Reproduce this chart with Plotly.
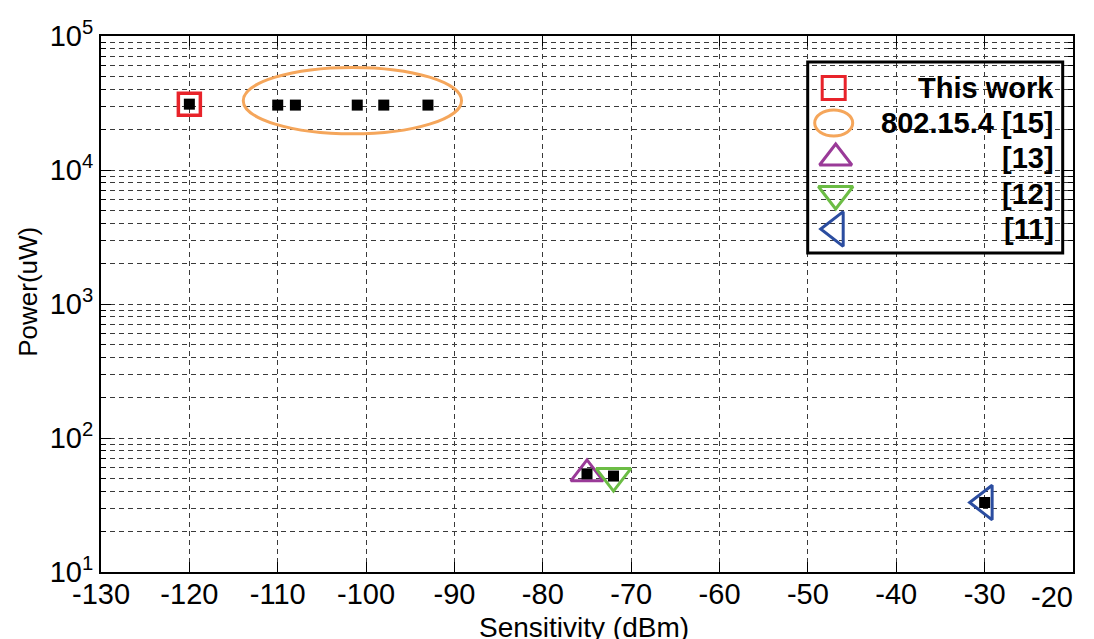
import plotly.graph_objects as go

# ---------------- data ----------------
this_work_x = [-120]
this_work_y = [31000]
ieee_x = [-110, -108, -101, -98, -93]
ieee_y = [30500, 30500, 30500, 30500, 30500]
ref13_x = [-75]
ref13_y = [54]
ref12_x = [-72]
ref12_y = [52]
ref11_x = [-30]
ref11_y = [33]

x_ticks = [-130, -120, -110, -100, -90, -80, -70, -60, -50, -40, -30, -20]
x_tick_text = [str(v) for v in x_ticks]
y_ticks = [10, 100, 1000, 10000, 100000]
y_tick_text = ["10<sup>1</sup>", "10<sup>2</sup>", "10<sup>3</sup>", "10<sup>4</sup>", "10<sup>5</sup>"]
legend_labels = ["This work", "802.15.4 [15]", "[13]", "[12]", "[11]"]

# ---------------- style ----------------
FONT = "Liberation Sans, Arial, Helvetica, sans-serif"
RED = "#E8232A"
ORANGE = "#F5A65B"
PURPLE = "#9A3A98"
GREEN = "#6CBD45"
BLUE = "#2B4DA0"
GRID = "#3a3a3a"
TICK_SIZE = 29

fig = go.Figure()

# open markers
fig.add_trace(go.Scatter(x=this_work_x, y=this_work_y, mode="markers",
                         marker=dict(symbol="square-open", size=22, color=RED, line=dict(width=3.5, color=RED)),
                         showlegend=False, cliponaxis=False))
fig.add_trace(go.Scatter(x=ref13_x, y=ref13_y, mode="markers",
                         marker=dict(symbol="triangle-up-open", size=28, color=PURPLE, line=dict(width=3, color=PURPLE)),
                         showlegend=False, cliponaxis=False))
fig.add_trace(go.Scatter(x=ref12_x, y=ref12_y, mode="markers",
                         marker=dict(symbol="triangle-down-open", size=30, color=GREEN, line=dict(width=3, color=GREEN)),
                         showlegend=False, cliponaxis=False))
fig.add_trace(go.Scatter(x=ref11_x, y=ref11_y, mode="markers",
                         marker=dict(symbol="triangle-left-open", size=30, color=BLUE, line=dict(width=3, color=BLUE)),
                         showlegend=False, cliponaxis=False))

# black data points
all_x = this_work_x + ieee_x + ref13_x + ref12_x + ref11_x
all_y = this_work_y + ieee_y + ref13_y + ref12_y + ref11_y
fig.add_trace(go.Scatter(x=all_x, y=all_y, mode="markers",
                         marker=dict(symbol="square", size=11, color="black"),
                         showlegend=False, cliponaxis=False))

# ellipse around the 802.15.4 group (data coordinates derived from the group)
ieee_mean_y = sum(ieee_y) / len(ieee_y)
fig.add_shape(type="circle", xref="x", yref="y",
              x0=min(ieee_x) - 3.9, x1=max(ieee_x) + 3.8,
              y0=ieee_mean_y * 0.61, y1=ieee_mean_y * 1.91,
              line=dict(color=ORANGE, width=3))

# ---------------- manual legend (pixel-like overlay axes) ----------------
leg_rows = [88, 123, 158, 194, 229]
leg_mx = 834
fig.add_shape(type="rect", xref="x2", yref="y2", x0=808, x1=1063, y0=62, y1=253,
              line=dict(color="black", width=3), fillcolor="rgba(0,0,0,0)")
fig.add_trace(go.Scatter(x=[leg_mx], y=[leg_rows[0]], xaxis="x2", yaxis="y2", mode="markers",
                         marker=dict(symbol="square-open", size=23, color=RED, line=dict(width=3, color=RED)),
                         showlegend=False))
fig.add_shape(type="circle", xref="x2", yref="y2", x0=leg_mx - 19, x1=leg_mx + 19,
              y0=leg_rows[1] - 13, y1=leg_rows[1] + 13, line=dict(color=ORANGE, width=3))
fig.add_trace(go.Scatter(x=[leg_mx + 2], y=[leg_rows[2]], xaxis="x2", yaxis="y2", mode="markers",
                         marker=dict(symbol="triangle-up-open", size=28, color=PURPLE, line=dict(width=3, color=PURPLE)),
                         showlegend=False))
fig.add_trace(go.Scatter(x=[leg_mx + 2], y=[leg_rows[3]], xaxis="x2", yaxis="y2", mode="markers",
                         marker=dict(symbol="triangle-down-open", size=30, color=GREEN, line=dict(width=3, color=GREEN)),
                         showlegend=False))
fig.add_trace(go.Scatter(x=[leg_mx + 2], y=[leg_rows[4]], xaxis="x2", yaxis="y2", mode="markers",
                         marker=dict(symbol="triangle-left-open", size=30, color=BLUE, line=dict(width=3, color=BLUE)),
                         showlegend=False))
for lab, ry in zip(legend_labels, leg_rows):
    fig.add_annotation(xref="x2", yref="y2", x=1056, y=ry, text="<b>" + lab + "</b>",
                       xanchor="right", yanchor="middle", showarrow=False,
                       font=dict(family=FONT, size=29, color="black"))

# last x tick label is pulled inside the figure edge (as in the reference)
x_tick_text_axis = x_tick_text[:-1] + [""]
fig.add_annotation(xref="paper", yref="paper", x=1.002, y=-0.047, text=x_tick_text[-1],
                   xanchor="right", yanchor="middle", showarrow=False,
                   font=dict(family=FONT, size=TICK_SIZE, color="black"))

# axis titles
fig.add_annotation(xref="paper", yref="paper", x=0.497, y=-0.103, text="Sensitivity (dBm)",
                   xanchor="center", yanchor="middle", showarrow=False,
                   font=dict(family=FONT, size=28, color="black"))
fig.add_annotation(xref="paper", yref="paper", x=-0.075, y=0.523, text="Power(uW)", textangle=-90,
                   xanchor="center", yanchor="middle", showarrow=False,
                   font=dict(family=FONT, size=26, color="black"))

grid_common = dict(showgrid=True, gridcolor=GRID, gridwidth=1, griddash="5px,4px")

# The page body adds an 8px offset, so the figure is sized to compensate.
fig.update_layout(
    width=1086, height=631,
    margin=dict(l=93, r=21, t=28, b=67),
    paper_bgcolor="white", plot_bgcolor="white",
    font=dict(family=FONT, size=TICK_SIZE, color="black"),
    showlegend=False,
    xaxis=dict(range=[-130, -20], tickvals=x_ticks, ticktext=x_tick_text_axis, ticks="inside", ticklen=10, tickwidth=1,
               tickcolor="black", showline=True, linewidth=2, linecolor="black", mirror="ticks",
               zeroline=False, automargin=False, tickfont=dict(size=TICK_SIZE, family=FONT),
               ticklabelstandoff=-5,
               **grid_common),
    yaxis=dict(type="log", range=[1, 5], tickvals=y_ticks, ticktext=y_tick_text, ticks="inside",
               ticklen=10, tickwidth=1, tickcolor="black", showline=True, linewidth=2,
               linecolor="black", mirror="ticks", zeroline=False, automargin=False,
               tickfont=dict(size=TICK_SIZE, family=FONT),
               minor=dict(dtick="D1", ticks="inside", ticklen=5, tickcolor="black",
                          showgrid=True, gridcolor=GRID, gridwidth=1, griddash="5px,4px"),
               **grid_common),
    xaxis2=dict(overlaying="x", range=[101.3, 1073.3], visible=False, fixedrange=True),
    yaxis2=dict(overlaying="y", range=[572, 36], visible=False, fixedrange=True),
)

fig.write_html("out.html")
